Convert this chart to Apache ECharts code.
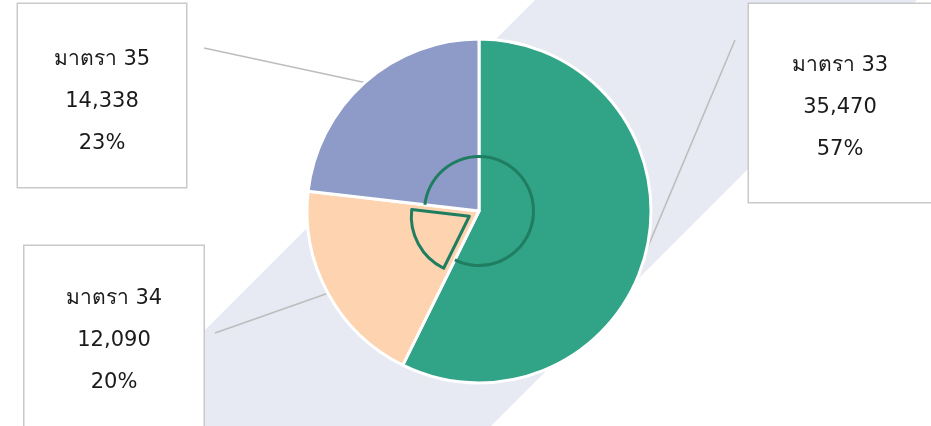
<!DOCTYPE html>
<html>
<head>
<meta charset="utf-8">
<script src="https://cdn.jsdelivr.net/npm/echarts@6/dist/echarts.min.js"></script>
<style>
  html, body { margin: 0; padding: 0; background: #fff; }
  #chart { width: 931px; height: 426px; }
</style>
</head>
<body>
<div id="chart"></div>
<script>
// ข้อมูลผู้ประกันตน
const names = ['มาตรา 33', 'มาตรา 34', 'มาตรา 35']
const values = [35470, 12090, 14338]
const colors = ['#31a386', '#fdd3b0', '#8e9bc8']

// กล่องป้ายกำกับ (ตำแหน่งจัดวาง) และปลายเส้นโยง
const labelBoxes = [
  { cx: 840, top: 4, width: 182, pad: [41, 0, 31, 0], lineEnd: [735, 40] },
  { cx: 114, top: 246, width: 179, pad: [32, 0, 50, 0], lineEnd: [215, 333] },
  { cx: 102, top: 4, width: 168, pad: [35, 0, 22, 0], lineEnd: [204, 48] }
]
const outlineColor = '#1f7d60'
const fontFamily = '"DejaVu Sans", "Noto Sans", sans-serif'

const chart = echarts.init(document.getElementById('chart'))

const mainData = names.map((n, i) => ({
  name: n,
  value: values[i],
  itemStyle: { color: colors[i] },
  label: { width: labelBoxes[i].width, padding: labelBoxes[i].pad }
}))

// วงแหวนเส้นขอบด้านใน (ไม่รวมส่วนมาตรา 34)
const ringData = names.map((n, i) => ({
  name: n,
  value: values[i],
  itemStyle: { color: i === 1 ? 'rgba(0,0,0,0)' : outlineColor }
}))

// ชิ้นด้านในของมาตรา 34 ที่ถูกเลือก
const wedgeData = names.map((n, i) => ({
  name: n,
  value: values[i],
  selected: i === 1,
  itemStyle: i === 1
    ? { color: 'rgba(0,0,0,0)', borderColor: outlineColor, borderWidth: 3 }
    : { color: 'rgba(0,0,0,0)', borderWidth: 0 }
}))

const option = {
  animation: false,
  backgroundColor: '#fff',
  graphic: [
    {
      type: 'polygon',
      z: -1,
      silent: true,
      shape: { points: [[535, 0], [917, 0], [491, 426], [109, 426]] },
      style: { fill: '#e7e9f3' }
    }
  ],
  series: [
    {
      type: 'pie',
      center: [479, 211],
      radius: 172,
      startAngle: 90,
      clockwise: true,
      avoidLabelOverlap: false,
      data: mainData,
      itemStyle: { borderColor: '#fff', borderWidth: 3 },
      label: {
        show: true,
        position: 'outside',
        formatter: (p) => p.name + '\n' + p.value.toLocaleString('en-US') + '\n' + Math.round(p.percent) + '%',
        color: '#1a1a1a',
        fontSize: 21,
        lineHeight: 42,
        fontFamily: fontFamily,
        align: 'center',
        backgroundColor: '#fff',
        borderColor: '#c9c9c9',
        borderWidth: 1.5
      },
      labelLine: {
        show: true,
        length: 20,
        length2: 20,
        lineStyle: { color: '#bdbdbd', width: 1.5 }
      },
      labelLayout: (params) => {
        const b = labelBoxes[params.dataIndex]
        const start = params.labelLinePoints ? params.labelLinePoints[0] : null
        const layout = { x: b.cx, y: b.top, align: 'center', verticalAlign: 'top' }
        if (start) layout.labelLinePoints = [start, b.lineEnd, b.lineEnd]
        return layout
      },
      emphasis: { disabled: true }
    },
    {
      type: 'pie',
      center: [479, 211],
      radius: [53, 56],
      startAngle: 90,
      silent: true,
      label: { show: false },
      labelLine: { show: false },
      data: ringData,
      itemStyle: { borderWidth: 0 },
      emphasis: { disabled: true }
    },
    {
      type: 'pie',
      center: [479, 211],
      radius: [0, 58],
      startAngle: 90,
      silent: true,
      selectedMode: 'single',
      selectedOffset: 11,
      label: { show: false },
      labelLine: { show: false },
      data: wedgeData,
      emphasis: { disabled: true }
    }
  ]
}

chart.setOption(option)
window.addEventListener('resize', () => chart.resize())
</script>
</body>
</html>
